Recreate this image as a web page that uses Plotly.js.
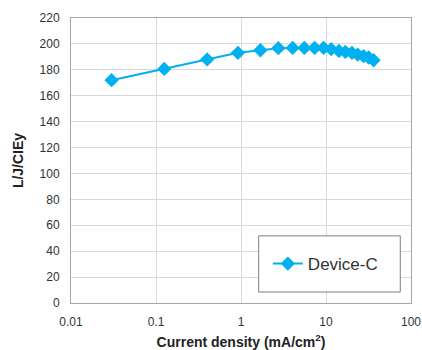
<!DOCTYPE html>
<html>
<head>
<meta charset="utf-8">
<script src="https://cdn.plot.ly/plotly-3.0.1.min.js"></script>
<style>html,body{margin:0;padding:0;background:#fff;}#chart{width:422px;height:350px;}</style>
</head>
<body>
<div id="chart"></div>
<script>
const currentDensity = [0.03, 0.125, 0.4, 0.92, 1.69, 2.75, 4.05, 5.56, 7.35, 9.37, 11.5, 14.2, 16.9, 20.2, 23.6, 27.7, 31.7, 36.3];
const ljCiey = [172.0, 180.7, 188.0, 193.1, 195.1, 196.7, 196.9, 196.9, 196.9, 196.9, 195.9, 194.6, 193.8, 193.1, 191.8, 190.5, 189.5, 187.4];
const seriesName = "Device-C";
const xTickVals = [0.01, 0.1, 1, 10, 100];
const xTickText = ["0.01", "0.1", "1", "10", "100"];

const font = "Liberation Sans, Arial, sans-serif";
const trace = {
  x: currentDensity, y: ljCiey, name: seriesName,
  type: "scatter", mode: "lines+markers",
  line: {color: "#00b0f0", width: 2},
  marker: {symbol: "diamond", size: 11, color: "#00b0f0"}
};
const layout = {
  width: 422, height: 350,
  margin: {l: 71, r: 11, t: 18, b: 47},
  paper_bgcolor: "#fff", plot_bgcolor: "#fff",
  font: {family: font, size: 12, color: "#333"},
  showlegend: true,
  legend: {x: 0.579, y: 0.1366, xanchor: "left", yanchor: "middle",
    bgcolor: "rgba(0,0,0,0)", borderwidth: 0,
    font: {family: font, size: 17, color: "#333"}},
  xaxis: {type: "log", range: [-2, 2], tickvals: xTickVals, ticktext: xTickText,
    showgrid: true, gridcolor: "#d9d9d9", gridwidth: 1,
    showline: true, linecolor: "#a6a6a6", linewidth: 1, mirror: true,
    ticks: "", ticklabelstandoff: 8, tickfont: {size: 12, color: "#333"}, zeroline: false,
    title: {text: "<b>Current density (mA/cm<sup>2</sup>)</b>", font: {size: 14, color: "#222"}, standoff: 8}},
  yaxis: {range: [0, 220], dtick: 20, tick0: 0,
    showgrid: true, gridcolor: "#d9d9d9", gridwidth: 1,
    showline: true, linecolor: "#a6a6a6", linewidth: 1, mirror: true,
    ticks: "", ticklabelstandoff: 8, tickfont: {size: 12, color: "#333"}, zeroline: false,
    title: {text: "<b>L/J/CIEy</b>", font: {size: 14, color: "#222"}, standoff: 12}},
  shapes: [{type: "rect", xref: "paper", yref: "paper",
    x0: 0.552, x1: 0.9685, y0: 0.0385, y1: 0.2356,
    fillcolor: "#fff", line: {color: "#7f7f7f", width: 1}, layer: "above"}]
};
Plotly.newPlot("chart", [trace], layout, {displayModeBar: false, staticPlot: true});
</script>
</body>
</html>
